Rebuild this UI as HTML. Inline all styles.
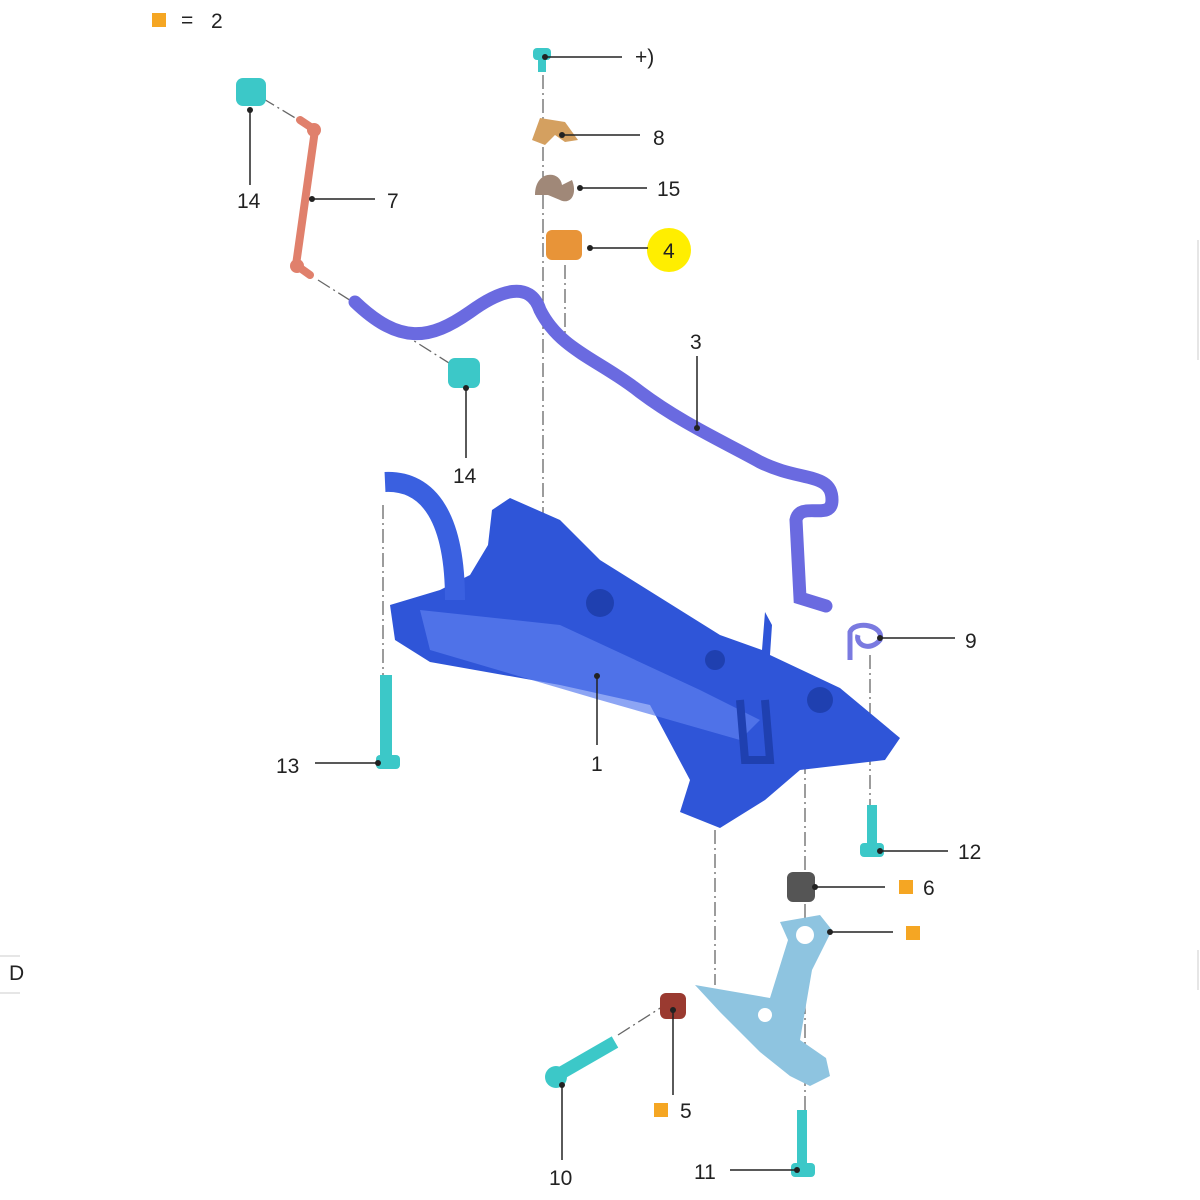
<!DOCTYPE html>
<html><head><meta charset="utf-8"><style>
html,body{margin:0;padding:0;background:#fff;}
svg{display:block;}
text{font-family:"Liberation Sans",sans-serif;font-size:21px;fill:#222;}
</style></head><body>
<svg width="1200" height="1200" viewBox="0 0 1200 1200" xmlns="http://www.w3.org/2000/svg">
<rect width="1200" height="1200" fill="#fff"/>
<!-- legend -->
<rect x="152" y="13" width="14" height="14" fill="#f5a623"/>
<text x="181" y="27" font-size="18">=</text><text x="211" y="28">2</text>
<text x="9" y="980" font-size="13" fill="#555">D</text>
<line x1="0" y1="956" x2="20" y2="956" stroke="#ccc"/><line x1="0" y1="993" x2="20" y2="993" stroke="#ccc"/>
<line x1="1198" y1="240" x2="1198" y2="360" stroke="#ccc"/>
<line x1="1198" y1="950" x2="1198" y2="990" stroke="#ccc"/>

<!-- dash-dot axes -->
<g stroke="#666" stroke-width="1.3" stroke-dasharray="14,4,2,4" fill="none">
<line x1="543" y1="75" x2="543" y2="570"/>
<line x1="565" y1="265" x2="565" y2="340"/>
<line x1="805" y1="760" x2="805" y2="1110"/>
<line x1="715" y1="830" x2="715" y2="985"/>
<line x1="383" y1="505" x2="383" y2="680"/>
<line x1="870" y1="655" x2="870" y2="805"/>
<line x1="318" y1="280" x2="460" y2="370"/>
<line x1="262" y1="98" x2="302" y2="122"/>
<line x1="618" y1="1035" x2="665" y2="1005"/>
</g>

<!-- subframe -->
<path d="M390,605 L440,590 L470,575 L488,545 L492,510 L510,498 L560,520 L600,560 L720,635 L762,650 L765,612 L772,625 L770,655 L840,688 L900,738 L885,760 L800,770 L765,800 L720,828 L680,812 L690,780 L650,705 L560,685 L430,662 L395,640 Z" fill="#2f55d8"/>
<path d="M420,610 L560,625 L700,690 L760,720 L740,740 L600,700 L430,650 Z" fill="#5c7ff0" opacity="0.7"/>
<path d="M385,482 C430,480 455,520 455,600" stroke="#3a60e0" stroke-width="20" fill="none"/>
<circle cx="600" cy="603" r="14" fill="#1f40b0"/><circle cx="820" cy="700" r="13" fill="#1f40b0"/><circle cx="715" cy="660" r="10" fill="#1f40b0"/>
<path d="M740,700 L745,760 L770,760 L765,700" stroke="#1f40b0" stroke-width="8" fill="none"/>

<!-- stabilizer bar -->
<path d="M355,302 C400,345 430,340 470,312 C500,290 530,280 540,310 C560,350 600,360 640,392 C680,422 720,440 760,462 C800,482 832,472 832,500 C832,522 800,500 796,520 L800,598 L826,606" stroke="#6a6ae0" stroke-width="13" fill="none" stroke-linecap="round"/>

<!-- link 7 -->
<path d="M300,120 L315,130 L296,265 L310,275" stroke="#e0806c" stroke-width="8" fill="none" stroke-linecap="round"/>
<circle cx="314" cy="130" r="7" fill="#e0806c"/><circle cx="297" cy="266" r="7" fill="#e0806c"/>

<!-- top parts -->
<path d="M532,140 L540,118 L565,122 L578,140 L565,142 L555,135 L545,145 Z" fill="#d4a060"/>
<path d="M535,195 C535,170 560,170 562,185 L572,180 C578,195 570,205 560,200 L548,195 Z" fill="#a08878"/>
<rect x="546" y="230" width="36" height="30" rx="6" fill="#e89438"/>
<circle cx="669" cy="250" r="22" fill="#ffee00"/>

<!-- bushings / bolts cyan -->
<g fill="#3cc8c8">
<rect x="533" y="48" width="18" height="12" rx="4"/><rect x="538" y="58" width="8" height="14"/>
<rect x="236" y="78" width="30" height="28" rx="7"/>
<rect x="448" y="358" width="32" height="30" rx="7"/>
<rect x="380" y="675" width="12" height="80"/><rect x="376" y="755" width="24" height="14" rx="4"/>
<rect x="867" y="805" width="10" height="40"/><rect x="860" y="843" width="24" height="14" rx="4"/>
<rect x="797" y="1110" width="10" height="56"/><rect x="791" y="1163" width="24" height="14" rx="4"/>
</g>
<path d="M556,1076 L615,1042" stroke="#3cc8c8" stroke-width="13"/>
<circle cx="556" cy="1077" r="11" fill="#3cc8c8"/>
<path d="M850,660 L850,632 C855,620 885,625 880,640 C870,652 855,645 858,635" stroke="#7a7ae0" stroke-width="5" fill="none"/>

<!-- bushings 6 / 5 -->
<rect x="787" y="872" width="28" height="30" rx="6" fill="#555"/>
<rect x="660" y="993" width="26" height="26" rx="6" fill="#9a3a30"/>

<!-- control arm -->
<path d="M695,985 L770,998 L788,940 L780,922 L820,915 L832,930 L812,970 L800,1040 L826,1058 L830,1076 L810,1086 L790,1076 L760,1052 L720,1012 Z" fill="#8ec4e0"/>
<circle cx="805" cy="935" r="9" fill="#fff"/><circle cx="765" cy="1015" r="7" fill="#fff"/>

<!-- leader lines -->
<g stroke="#222" stroke-width="1.5">
<line x1="545" y1="57" x2="622" y2="57"/>
<line x1="562" y1="135" x2="640" y2="135"/>
<line x1="580" y1="188" x2="647" y2="188"/>
<line x1="590" y1="248" x2="648" y2="248"/>
<line x1="312" y1="199" x2="375" y2="199"/>
<line x1="250" y1="110" x2="250" y2="185"/>
<line x1="466" y1="388" x2="466" y2="458"/>
<line x1="697" y1="356" x2="697" y2="428"/>
<line x1="880" y1="638" x2="955" y2="638"/>
<line x1="315" y1="763" x2="378" y2="763"/>
<line x1="597" y1="676" x2="597" y2="745"/>
<line x1="880" y1="851" x2="948" y2="851"/>
<line x1="815" y1="887" x2="885" y2="887"/>
<line x1="830" y1="932" x2="893" y2="932"/>
<line x1="673" y1="1010" x2="673" y2="1095"/>
<line x1="562" y1="1085" x2="562" y2="1160"/>
<line x1="730" y1="1170" x2="797" y2="1170"/>
</g>
<g fill="#222">
<circle cx="545" cy="57" r="3"/><circle cx="562" cy="135" r="3"/><circle cx="580" cy="188" r="3"/><circle cx="590" cy="248" r="3"/>
<circle cx="312" cy="199" r="3"/><circle cx="250" cy="110" r="3"/><circle cx="466" cy="388" r="3"/><circle cx="697" cy="428" r="3"/>
<circle cx="880" cy="638" r="3"/><circle cx="378" cy="763" r="3"/><circle cx="597" cy="676" r="3"/><circle cx="880" cy="851" r="3"/>
<circle cx="815" cy="887" r="3"/><circle cx="830" cy="932" r="3"/><circle cx="673" cy="1010" r="3"/><circle cx="562" cy="1085" r="3"/><circle cx="797" cy="1170" r="3"/>
</g>
<rect x="899" y="880" width="14" height="14" fill="#f5a623"/>
<rect x="906" y="926" width="14" height="14" fill="#f5a623"/>
<rect x="654" y="1103" width="14" height="14" fill="#f5a623"/>

<!-- labels -->
<text x="635" y="64">+)</text>
<text x="653" y="145">8</text>
<text x="657" y="196">15</text>
<text x="663" y="258">4</text>
<text x="387" y="208">7</text>
<text x="237" y="208">14</text>
<text x="453" y="483">14</text>
<text x="690" y="349">3</text>
<text x="965" y="648">9</text>
<text x="276" y="773">13</text>
<text x="591" y="771">1</text>
<text x="958" y="859">12</text>
<text x="923" y="895">6</text>
<text x="680" y="1118">5</text>
<text x="549" y="1185">10</text>
<text x="694" y="1179">11</text>
</svg>
</body></html>
